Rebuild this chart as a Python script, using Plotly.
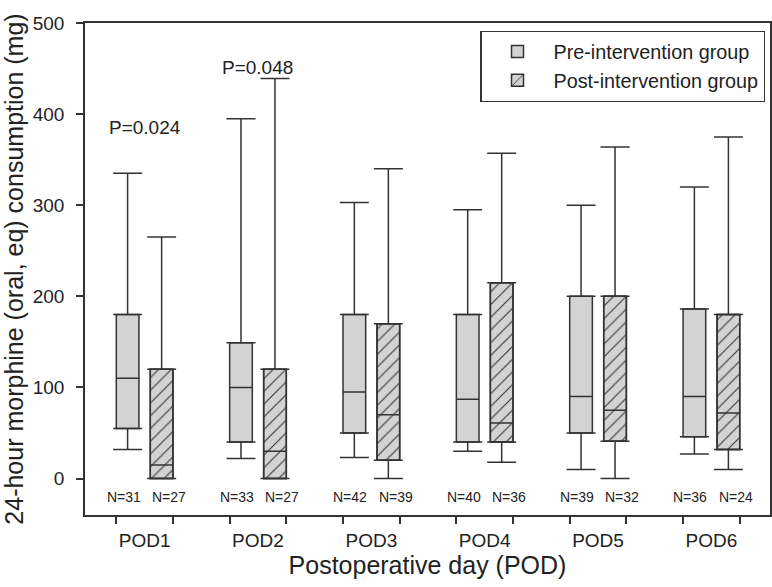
import plotly.graph_objects as go

# ---- data ----
pods = ["POD1", "POD2", "POD3", "POD4", "POD5", "POD6"]
pre_lo = [32, 22, 23, 30, 10, 27]
pre_q1 = [55, 40, 50, 40, 50, 46]
pre_med = [110, 100, 95, 87, 90, 90]
pre_q3 = [180, 149, 180, 180, 200, 186]
pre_hi = [335, 395, 303, 295, 300, 320]

post_lo = [0, 0, 0, 18, 0, 10]
post_q1 = [0, 0, 20, 40, 41, 32]
post_med = [15, 30, 70, 61, 75, 72]
post_q3 = [120, 120, 170, 215, 200, 180]
post_hi = [265, 439, 340, 357, 364, 375]

n_pre = [31, 33, 42, 40, 39, 36]
n_post = [27, 27, 39, 36, 32, 24]

p_labels = ["P=0.024", "P=0.048"]
p_pods = ["POD1", "POD2"]

# ---- layout helpers ----
centers = list(range(1, len(pods) + 1))
OFF = 0.15
BW = 0.2
x_pre = [c - OFF for c in centers]
x_post = [c + OFF for c in centers]

LINE = "#333333"
FILL = "#d3d3d3"
FONT = "Liberation Sans, Arial, sans-serif"
CAP = 14.5


def whiskers(xs, q1, q3, lo, hi):
    up = go.Scatter(
        x=xs, y=q3, mode="markers", marker=dict(size=0.1, color="rgba(0,0,0,0)"),
        error_y=dict(type="data", symmetric=False,
                     array=[h - q for h, q in zip(hi, q3)], arrayminus=[0] * len(q3),
                     color=LINE, thickness=1.5, width=CAP),
        showlegend=False, hoverinfo="skip",
    )
    dn = go.Scatter(
        x=xs, y=q1, mode="markers", marker=dict(size=0.1, color="rgba(0,0,0,0)"),
        error_y=dict(type="data", symmetric=False,
                     array=[0] * len(q1), arrayminus=[q - l for q, l in zip(q1, lo)],
                     color=LINE, thickness=1.5, width=CAP),
        showlegend=False, hoverinfo="skip",
    )
    return [up, dn]


fig = go.Figure()

fig.add_trace(go.Box(
    name="Pre-intervention group",
    x=x_pre, q1=pre_q1, median=pre_med, q3=pre_q3,
    lowerfence=pre_q1, upperfence=pre_q3,
    width=BW, whiskerwidth=0, boxpoints=False,
    fillcolor=FILL, line=dict(color=LINE, width=1.5),
    showlegend=True, hoverinfo="skip",
))

fig.add_trace(go.Bar(
    name="Post-intervention group",
    x=x_post, base=post_q1,
    y=[b - a for a, b in zip(post_q1, post_q3)],
    width=BW,
    marker=dict(color=FILL, line=dict(color=LINE, width=1.5),
                pattern=dict(shape="/", fgcolor=LINE, bgcolor=FILL,
                             size=9, solidity=0.12, fillmode="replace")),
    showlegend=True, hoverinfo="skip",
))

fig.add_trace(go.Box(
    name="post-lines",
    x=x_post, q1=post_q1, median=post_med, q3=post_q3,
    lowerfence=post_q1, upperfence=post_q3,
    width=BW, whiskerwidth=0, boxpoints=False,
    fillcolor="rgba(0,0,0,0)", line=dict(color=LINE, width=1.5),
    showlegend=False, hoverinfo="skip",
))

for t in whiskers(x_pre, pre_q1, pre_q3, pre_lo, pre_hi):
    fig.add_trace(t)
for t in whiskers(x_post, post_q1, post_q3, post_lo, post_hi):
    fig.add_trace(t)

annotations = []
for c, n in zip(centers, n_pre):
    annotations.append(dict(x=c - 0.185, y=-20, xref="x", yref="y", text=f"N={n}",
                            showarrow=False, font=dict(size=14, color="#222", family=FONT)))
for c, n in zip(centers, n_post):
    annotations.append(dict(x=c + 0.215, y=-20, xref="x", yref="y", text=f"N={n}",
                            showarrow=False, font=dict(size=14, color="#222", family=FONT)))
p_y = [385, 451]
for lab, pod, yy in zip(p_labels, p_pods, p_y):
    annotations.append(dict(x=pods.index(pod) + 1, y=yy, xref="x", yref="y", text=lab,
                            showarrow=False, font=dict(size=19, color="#222", family=FONT)))

minor_vals = []
for c in centers:
    minor_vals += [c - 0.25, c + 0.25]

fig.update_layout(
    width=772, height=587,
    margin=dict(l=85, r=2, t=23, b=72),
    paper_bgcolor="white", plot_bgcolor="white",
    font=dict(family=FONT, color="#222"),
    boxmode="overlay", barmode="overlay",
    annotations=annotations,
    legend=dict(x=0.993, y=0.984, xanchor="right", yanchor="top",
                bgcolor="white", bordercolor=LINE, borderwidth=1.3,
                font=dict(size=19.8, color="#222", family=FONT),
                traceorder="normal", itemwidth=62),
    xaxis=dict(
        range=[0.474, 6.517], automargin=False,
        tickmode="array", tickvals=centers, ticktext=pods,
        ticks="outside", ticklen=7, tickcolor="rgba(0,0,0,0)",
        tickfont=dict(size=19, color="#222"),
        minor=dict(tickmode="array", tickvals=minor_vals, ticks="outside",
                   ticklen=7, tickwidth=1.5, tickcolor=LINE, showgrid=False),
        showline=True, linecolor=LINE, linewidth=1.5, mirror=True,
        showgrid=False, zeroline=False,
        title=dict(text="Postoperative day (POD)", font=dict(size=25, color="#222"), standoff=6),
    ),
    yaxis=dict(
        range=[-40, 500], automargin=False,
        tickmode="array", tickvals=[0, 100, 200, 300, 400, 500],
        ticks="outside", ticklen=7, tickwidth=1.5, tickcolor=LINE,
        tickfont=dict(size=19, color="#222"), ticklabelstandoff=8,
        showline=True, linecolor=LINE, linewidth=1.5, mirror=True,
        showgrid=False, zeroline=False,
        title=dict(text="24-hour morphine (oral, eq) consumption (mg)",
                   font=dict(size=25, color="#222"), standoff=4),
    ),
)

fig.write_html("out.html", config={"displayModeBar": False},
               post_script="document.body.style.margin='0px';document.body.style.overflow='hidden';")
